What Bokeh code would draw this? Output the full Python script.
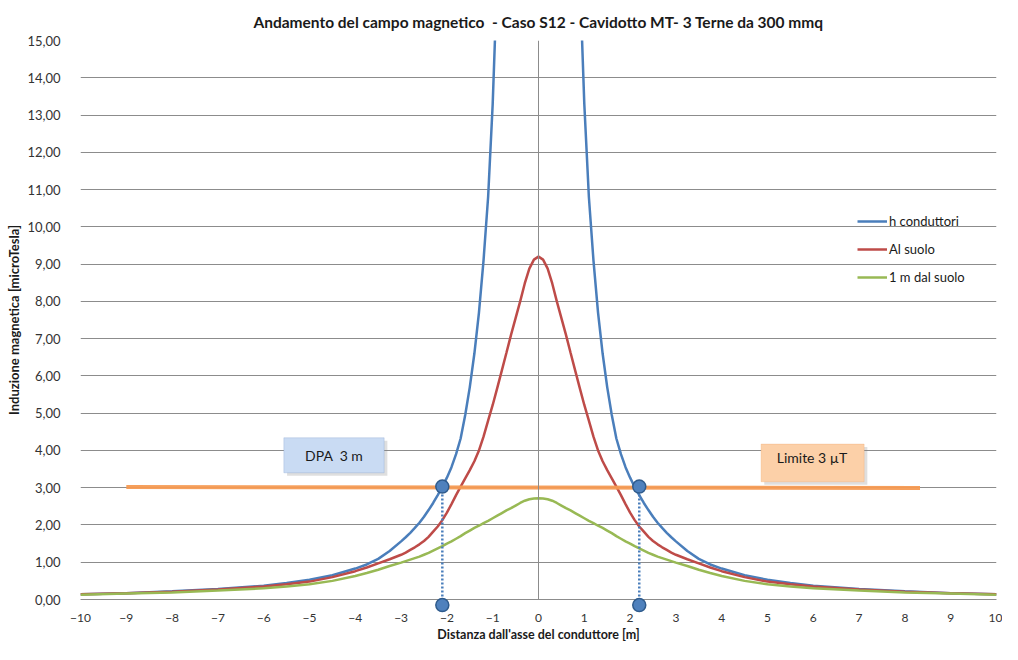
from bokeh.plotting import figure
from bokeh.models import FixedTicker, Span, BoxAnnotation, Label
from bokeh.embed import file_html
from bokeh.resources import INLINE

# ---- data (curves are symmetric about x = 0) ----
# distances from the axis (right half); the left half mirrors them
dist = [0.1, 0.2, 0.3, 0.4, 0.5, 0.6, 0.7, 0.8, 0.9, 1.0,
        1.1, 1.2, 1.3, 1.4, 1.5, 1.6, 1.7, 1.8, 1.9, 2.0,
        2.1, 2.2, 2.3, 2.4, 2.5, 2.6, 2.7, 2.8, 2.9, 3.0,
        3.25, 3.5, 3.75, 4.0, 4.5, 5.0, 5.5, 6.0, 7.0, 8.0, 9.0, 10.0]

h_conduttori_0 = 90.0
h_conduttori = [80.0, 75.0, 65.0, 55.0, 45.0, 36.0, 28.0, 21.5, 16.8, 13.3,
                10.8, 9.1, 7.7, 6.6, 5.7, 4.95, 4.32, 3.9, 3.55, 3.27,
                3.02, 2.8, 2.59, 2.4, 2.22, 2.06, 1.92, 1.79, 1.67, 1.56,
                1.3, 1.09, 0.94, 0.83, 0.65, 0.53, 0.44, 0.37, 0.28, 0.22, 0.17, 0.14]

al_suolo_0 = 9.2
al_suolo = [9.12, 8.88, 8.48, 8.0, 7.55, 7.1, 6.62, 6.15, 5.68, 5.22,
            4.8, 4.37, 4.0, 3.71, 3.47, 3.25, 3.03, 2.8, 2.56, 2.33,
            2.13, 1.96, 1.82, 1.68, 1.57, 1.48, 1.4, 1.33, 1.26, 1.2,
            1.08, 0.97, 0.86, 0.76, 0.6, 0.48, 0.41, 0.35, 0.27, 0.21, 0.17, 0.14]

un_m_dal_suolo_0 = 2.72
un_m_dal_suolo = [2.71, 2.69, 2.65, 2.59, 2.52, 2.45, 2.39, 2.32, 2.25, 2.18,
                  2.11, 2.05, 1.98, 1.92, 1.85, 1.78, 1.7, 1.63, 1.56, 1.5,
                  1.43, 1.37, 1.31, 1.25, 1.2, 1.15, 1.11, 1.07, 1.03, 0.99,
                  0.9, 0.8, 0.71, 0.63, 0.5, 0.41, 0.35, 0.3, 0.24, 0.19, 0.16, 0.13]

limite_x = [-9.0, 8.33]
limite_y = [3.02, 2.99]

dpa_x = [-2.1, 2.2]
dpa_top = [3.03, 3.03]
dpa_bottom = [-0.15, -0.15]

x_ticks = list(range(-10, 11))
y_ticks = list(range(0, 16))

series_names = ["h conduttori", "Al suolo", "1 m dal suolo"]

# full x / y arrays (left half mirrored, centre, right half)
x_vals = [-d for d in reversed(dist)] + [0.0] + dist


def full(center, half):
    return list(reversed(half)) + [center] + half


series = [full(h_conduttori_0, h_conduttori),
          full(al_suolo_0, al_suolo),
          full(un_m_dal_suolo_0, un_m_dal_suolo)]

FONT = "Lato"

p = figure(width=1002, height=644, x_range=(-10, 10), y_range=(0, 15),
           output_backend="svg", toolbar_location=None,
           min_border_left=80, min_border_right=6, min_border_top=38, min_border_bottom=44)

p.title.text = "Andamento del campo magnetico \u00a0- Caso S12 - Cavidotto MT- 3 Terne da 300 mmq"
p.title.align = "center"
p.title.text_font = FONT
p.title.text_font_size = "15.5px"
p.title.text_font_style = "bold"
p.title.text_color = "#1a1a1a"
p.title.standoff = 20

p.outline_line_color = None
p.background_fill_color = "white"
p.border_fill_color = "white"

# grid
p.xgrid.grid_line_color = None
p.ygrid.ticker = FixedTicker(ticks=y_ticks)
p.ygrid.grid_line_color = "#8c8c8c"
p.ygrid.grid_line_width = 1

# axes
p.xaxis.ticker = FixedTicker(ticks=x_ticks)
p.xaxis.axis_line_color = "#8c8c8c"
p.xaxis.major_tick_line_color = None
p.xaxis.minor_tick_line_color = None
p.xaxis.major_label_standoff = 8
p.xaxis.axis_label = "Distanza dall'asse del conduttore [m]"
p.xaxis.axis_label_standoff = 2

p.yaxis.ticker = FixedTicker(ticks=y_ticks)
p.yaxis.major_label_overrides = {t: f"{t:.2f}".replace(".", ",") for t in y_ticks}
p.yaxis.axis_line_color = None
p.yaxis.major_tick_line_color = None
p.yaxis.minor_tick_line_color = None
p.yaxis.major_label_standoff = 14
p.yaxis.axis_label = "Induzione magnetica [microTesla]"
p.yaxis.axis_label_standoff = 2

for ax in (p.xaxis[0], p.yaxis[0]):
    ax.major_label_text_font = FONT
    ax.major_label_text_font_size = "12px"
    ax.major_label_text_color = "#333333"
    ax.axis_label_text_font = FONT
    ax.axis_label_text_font_style = "bold"
    ax.axis_label_text_color = "#1a1a1a"
p.yaxis.major_label_text_font_size = "13px"
p.yaxis.axis_label_text_font_size = "13px"
p.xaxis.axis_label_text_font_size = "12.5px"

# vertical axis at x = 0
p.add_layout(Span(location=0, dimension="height", line_color="#8c8c8c", line_width=1))

# curves
colors = ["#4a7ebb", "#be4b48", "#98b954"]
for ys, name, c in zip(series, series_names, colors):
    p.line(x_vals, ys, line_color=c, line_width=2.5, legend_label=name)

# limit line
p.line(limite_x, limite_y, line_color="#f59a52", line_width=4, line_alpha=0.95)

# DPA markers and dotted drops
p.segment(x0=dpa_x, y0=dpa_top, x1=dpa_x, y1=dpa_bottom, line_color="#4a7ebb",
          line_width=2.5, line_dash="2 2", level="overlay")
p.scatter(dpa_x, dpa_top, size=13, fill_color="#4f81bd", line_color="#2f5b8c",
          line_width=1.5, level="overlay")
p.scatter(dpa_x, dpa_bottom, size=13, fill_color="#4f81bd", line_color="#2f5b8c",
          line_width=1.5, level="overlay")

# text boxes (with soft shadows)
p.add_layout(BoxAnnotation(left=-5.49, right=-3.30, bottom=3.32, top=4.26,
                           fill_color="#7f7f7f", fill_alpha=0.25, line_alpha=0, level="overlay"))
p.add_layout(BoxAnnotation(left=-5.56, right=-3.37, bottom=3.40, top=4.34,
                           fill_color="#c9dbf3", fill_alpha=1, line_color="#7d9ccc",
                           line_width=1, level="overlay"))
p.add_layout(Label(x=-4.46, y=3.87, text="DPA \u00a03 m", text_align="center",
                   text_baseline="middle", text_font=FONT, text_font_size="14px",
                   text_color="#1a1a1a", level="overlay"))

p.add_layout(BoxAnnotation(left=4.93, right=7.18, bottom=3.08, top=4.09,
                           fill_color="#7f7f7f", fill_alpha=0.25, line_alpha=0, level="overlay"))
p.add_layout(BoxAnnotation(left=4.86, right=7.11, bottom=3.16, top=4.17,
                           fill_color="#fcd0a8", fill_alpha=1, line_color="#f2a76a",
                           line_width=1, level="overlay"))
p.add_layout(Label(x=5.97, y=3.82, text="Limite 3 µT", text_align="center",
                   text_baseline="middle", text_font=FONT, text_font_size="14px",
                   text_color="#1a1a1a", level="overlay"))

# legend
lg = p.legend[0]
lg.location = (777, 312)
lg.padding = 0
lg.margin = 0
lg.spacing = 8
lg.glyph_width = 30
lg.glyph_height = 20
lg.label_height = 20
lg.label_standoff = 2
lg.background_fill_alpha = 0
lg.border_line_alpha = 0
lg.label_text_font = FONT
lg.label_text_font_size = "13px"
lg.label_text_color = "#1a1a1a"

open("out.html", "w").write(file_html(p, INLINE))
